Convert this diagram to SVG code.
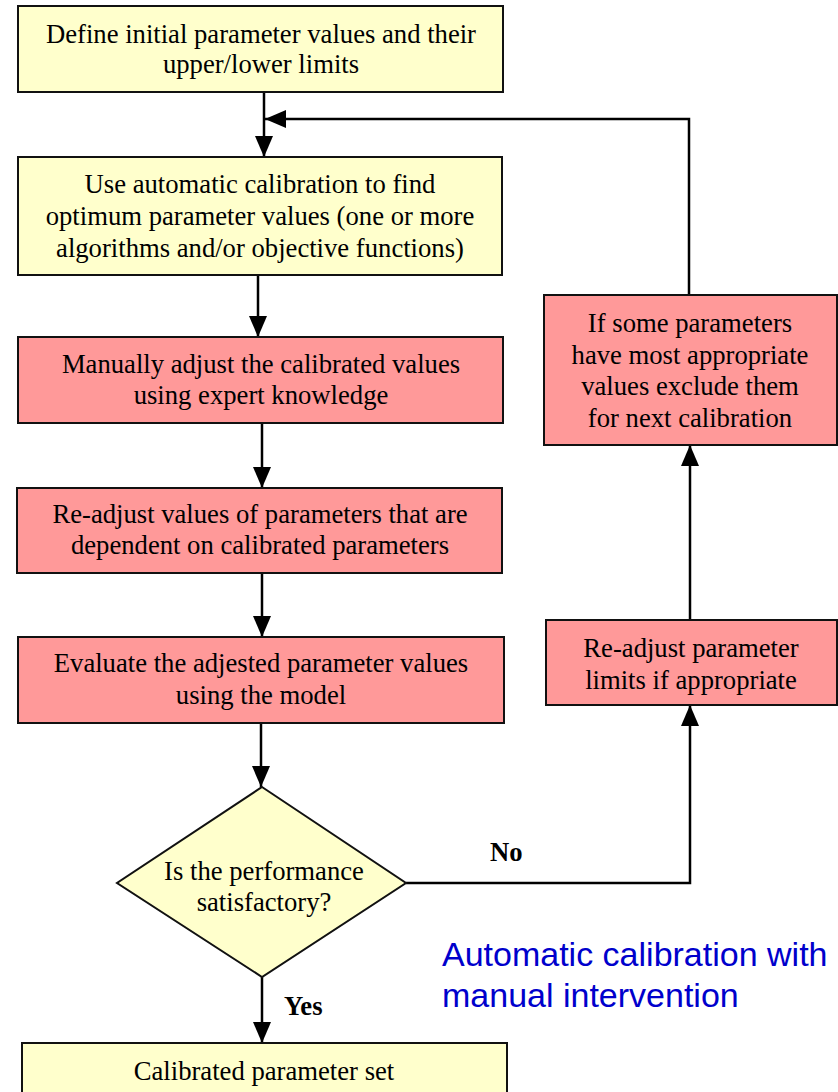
<svg xmlns="http://www.w3.org/2000/svg" width="838" height="1092" viewBox="0 0 838 1092">
<style>
.y{fill:#FFFFCC;stroke:#111;stroke-width:2}
.r{fill:#FF9999;stroke:#111;stroke-width:2}
.t{font-family:"Liberation Serif","Times New Roman",serif;font-size:26.67px;fill:#000;text-anchor:middle}
.b{font-family:"Liberation Serif","Times New Roman",serif;font-size:26.67px;font-weight:bold;fill:#000}
.c{fill:none;stroke:#000;stroke-width:2.5}
.blue{font-family:"Liberation Sans",Arial,sans-serif;font-size:34px;fill:#0000CC}
</style>
<defs>
<marker id="ah" markerUnits="userSpaceOnUse" markerWidth="21" markerHeight="18" refX="21" refY="9" orient="auto">
<path d="M0,0 L21,9 L0,18 z" fill="#000"/>
</marker>
</defs>
<g id="connectors">
<path class="c" d="M264,92 V157" marker-end="url(#ah)"/>
<path class="c" d="M689,295 V119 H265" marker-end="url(#ah)"/>
<path class="c" d="M258,275 V337" marker-end="url(#ah)"/>
<path class="c" d="M262,423 V488" marker-end="url(#ah)"/>
<path class="c" d="M262,573 V637" marker-end="url(#ah)"/>
<path class="c" d="M261,723 V787" marker-end="url(#ah)"/>
<path class="c" d="M262,977 V1043" marker-end="url(#ah)"/>
<path class="c" d="M406,883 H690 V705" marker-end="url(#ah)"/>
<path class="c" d="M690,620 V445" marker-end="url(#ah)"/>
</g>
<g id="n1">
<rect class="y" x="18" y="6" width="485" height="86"/>
<text class="t" x="261" y="43">Define initial parameter values and their</text>
<text class="t" x="261" y="73">upper/lower limits</text>
</g>
<g id="n2">
<rect class="y" x="18" y="157" width="484" height="118"/>
<text class="t" x="260" y="193">Use automatic calibration to find</text>
<text class="t" x="260" y="225">optimum parameter values (one or more</text>
<text class="t" x="260" y="257">algorithms and/or objective functions)</text>
</g>
<g id="n3">
<rect class="r" x="18" y="337" width="485" height="86"/>
<text class="t" x="261" y="373">Manually adjust the calibrated values</text>
<text class="t" x="261" y="404">using expert knowledge</text>
</g>
<g id="n4">
<rect class="r" x="17" y="488" width="485" height="85"/>
<text class="t" x="260" y="523">Re-adjust values of parameters that are</text>
<text class="t" x="260" y="554">dependent on calibrated parameters</text>
</g>
<g id="n5">
<rect class="r" x="18" y="637" width="486" height="86"/>
<text class="t" x="261" y="672">Evaluate the adjested parameter values</text>
<text class="t" x="261" y="704">using the model</text>
</g>
<g id="n6">
<polygon class="y" points="262,787 406,883 262,977 117,883"/>
<text class="t" x="264" y="880">Is the performance</text>
<text class="t" x="264" y="911">satisfactory?</text>
</g>
<g id="n7">
<rect class="y" x="22" y="1043" width="485" height="60"/>
<text class="t" x="264" y="1080">Calibrated parameter set</text>
</g>
<g id="n8">
<rect class="r" x="546" y="620" width="291" height="85"/>
<text class="t" x="691" y="657">Re-adjust parameter</text>
<text class="t" x="691" y="689">limits if appropriate</text>
</g>
<g id="n9">
<rect class="r" x="544" y="295" width="293" height="150"/>
<text class="t" x="690" y="332">If some parameters</text>
<text class="t" x="690" y="364">have most appropriate</text>
<text class="t" x="690" y="395">values exclude them</text>
<text class="t" x="690" y="427">for next calibration</text>
</g>
<g id="labels">
<text class="b" x="490" y="861">No</text>
<text class="b" x="284" y="1015">Yes</text>
<text class="blue" x="442" y="966">Automatic calibration with</text>
<text class="blue" x="442" y="1007">manual intervention</text>
</g>
</svg>
